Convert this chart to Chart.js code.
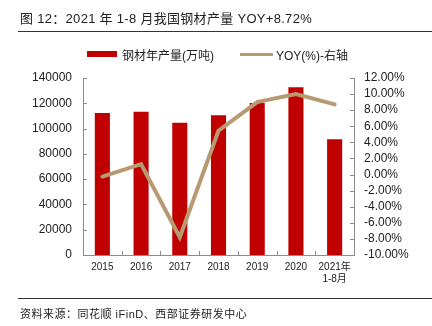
<!DOCTYPE html>
<html>
<head>
<meta charset="utf-8">
<script src="https://cdn.jsdelivr.net/npm/chart.js@4.4.1/dist/chart.umd.min.js"></script>
<style>
  html, body { margin:0; padding:0; background:#fff; }
  body { width:432px; height:326px; position:relative; overflow:hidden;
         font-family:"Liberation Sans","Noto Sans CJK SC",sans-serif; }
  #c { position:absolute; left:0; top:0; }
  .abs { position:absolute; white-space:nowrap; }
  #title { left:20px; top:8px; font-size:13px; color:#222; letter-spacing:0.3px; }
  .rule { position:absolute; left:18px; width:414px; height:1px; background:#333; }
  #src { left:20px; top:305px; font-size:11px; color:#222; letter-spacing:0.5px; }
  .leg { position:absolute; font-size:12px; color:#222; top:46px; }
</style>
</head>
<body>
<canvas id="c" width="432" height="326"></canvas>
<div id="title" class="abs">图 12：2021 年 1-8 月我国钢材产量 YOY+8.72%</div>
<div class="rule" style="top:31px"></div>
<div class="abs" style="left:87px;top:51px;width:30px;height:6px;background:#C00000"></div>
<div class="leg" style="left:122px">钢材年产量(万吨)</div>
<div class="abs" style="left:240px;top:53px;width:33px;height:3px;background:#B89A72"></div>
<div class="leg" style="left:276px">YOY(%)-右轴</div>
<div class="rule" style="top:298px"></div>
<div id="src" class="abs">资料来源：同花顺 iFinD、西部证券研发中心</div>
<script>
const categories = ['2015','2016','2017','2018','2019','2020',['2021年','1-8月']];
const output = [112350, 113400, 104600, 110500, 120300, 132600, 91500];
const yoy = [-0.25, 1.3, -7.8, 5.45, 9.0, 10.0, 8.72];
const leftTicks = [0, 20000, 40000, 60000, 80000, 100000, 120000, 140000];
const rightTicks = [-10, -8, -6, -4, -2, 0, 2, 4, 6, 8, 10, 12];

const FONT = '"Liberation Sans","Noto Sans CJK SC",sans-serif';
const AXIS = '#8c8c8c';

const innerTicks = {
  id: 'innerTicks',
  afterDraw(chart) {
    const ctx = chart.ctx;
    const {x, y, y1} = chart.scales;
    const a = chart.chartArea;
    ctx.save();
    ctx.strokeStyle = AXIS;
    ctx.lineWidth = 1;
    ctx.beginPath();
    leftTicks.forEach(v => {
      const py = Math.round(y.getPixelForValue(v)) + 0.5;
      ctx.moveTo(a.left, py); ctx.lineTo(a.left + 4, py);
    });
    rightTicks.forEach(v => {
      const py = Math.round(y1.getPixelForValue(v)) + 0.5;
      ctx.moveTo(a.right, py); ctx.lineTo(a.right - 4, py);
    });
    for (let i = 0; i < categories.length - 1; i++) {
      const px = Math.round((x.getPixelForValue(i) + x.getPixelForValue(i + 1)) / 2) + 0.5;
      ctx.moveTo(px, a.bottom); ctx.lineTo(px, a.bottom - 4);
    }
    ctx.stroke();
    ctx.restore();
  }
};

new Chart(document.getElementById('c'), {
  data: {
    labels: categories,
    datasets: [
      { type: 'line', label: 'YOY(%)-右轴', data: yoy, yAxisID: 'y1',
        borderColor: '#B89A72', borderWidth: 4, pointRadius: 0, tension: 0,
        borderCapStyle: 'round', borderJoinStyle: 'miter', order: 0 },
      { type: 'bar', label: '钢材年产量(万吨)', data: output, yAxisID: 'y',
        backgroundColor: '#C00000', categoryPercentage: 1, barPercentage: 0.39, order: 1 }
    ]
  },
  options: {
    responsive: false,
    animation: false,
    layout: { padding: { top: 78, left: 0, right: 0, bottom: 0 } },
    plugins: { legend: { display: false }, tooltip: { enabled: false } },
    scales: {
      x: {
        grid: { display: false, drawTicks: false },
        border: { display: true, color: AXIS },
        ticks: { font: { size: 10, family: FONT }, color: '#222', padding: 6, maxRotation: 0, autoSkip: false },
        afterFit(s) { s.height = 71; }
      },
      y: {
        position: 'left', min: 0, max: 140000,
        grid: { display: false, drawTicks: false },
        border: { display: true, color: AXIS },
        afterBuildTicks(s) { s.ticks = leftTicks.map(v => ({ value: v })); },
        ticks: { autoSkip: false, font: { size: 12, family: FONT }, color: '#222', padding: 11,
                 callback: v => String(v) },
        afterFit(s) { s.width = 83; }
      },
      y1: {
        position: 'right', min: -10, max: 12,
        grid: { display: false, drawTicks: false },
        border: { display: true, color: AXIS },
        afterBuildTicks(s) { s.ticks = rightTicks.map(v => ({ value: v })); },
        ticks: { autoSkip: false, font: { size: 12, family: FONT }, color: '#222', padding: 10,
                 callback: v => Number(v).toFixed(2) + '%' },
        afterFit(s) { s.width = 78; }
      }
    }
  },
  plugins: [innerTicks]
});
</script>
</body>
</html>
